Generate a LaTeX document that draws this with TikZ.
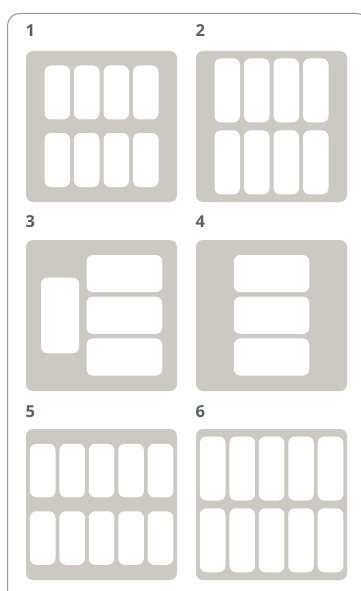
\documentclass[tikz,border=0pt]{standalone}
\usepackage{fontspec}
\setmainfont{Open Sans}
\definecolor{panelgray}{RGB}{204,200,194}
\definecolor{labelc}{RGB}{90,95,102}
\definecolor{framec}{RGB}{150,150,150}
\begin{document}
\begin{tikzpicture}[x=1pt,y=-1pt,
  panel/.style={fill=panelgray,rounded corners=7pt},
  cell/.style={fill=white,rounded corners=6.5pt},
  lbl/.style={anchor=base west,inner sep=0pt,text=labelc,font=\fontsize{16.5}{19}\selectfont\bfseries}]
\useasboundingbox (0,0) rectangle (361,591);
\clip (0,0) rectangle (361,591);
\fill[white] (0,0) rectangle (361,591);
% outer frame
\draw[framec,line width=1pt,rounded corners=12pt] (7.5,13.5) rectangle (369,612);
% labels
\node[lbl] (l1) at (25.5,37) {1};
\node[lbl] (l2) at (195.5,37) {2};
\node[lbl] (l3) at (25.5,227) {3};
\node[lbl] (l4) at (195.5,227) {4};
\node[lbl] (l5) at (25.5,417) {5};
\node[lbl] (l6) at (195.5,417) {6};
% panel 1
\begin{scope}[shift={(26,51)}]
  \fill[panel] (0,0) rectangle (151,151);
  \foreach \i in {0,...,3}{
    \foreach \r in {14.5,82}{
      \fill[cell] ({18.5+\i*29.5},\r) rectangle ++(25.5,54);
    }}
\end{scope}
% panel 2
\begin{scope}[shift={(196,51)}]
  \fill[panel] (0,0) rectangle (151,151);
  \foreach \i in {0,...,3}{
    \foreach \r in {7.4,79.4}{
      \fill[cell] ({18.5+\i*29.5},\r) rectangle ++(25.5,64);
    }}
\end{scope}
% panel 3
\begin{scope}[shift={(26,240)}]
  \fill[panel] (0,0) rectangle (151,151);
  \fill[cell] (15,37.5) rectangle (53,113.3);
  \foreach \r in {15,56.7,98.4}{
    \fill[cell] (60.5,\r) rectangle ++(75.8,37.2);
  }
\end{scope}
% panel 4
\begin{scope}[shift={(196,240)}]
  \fill[panel] (0,0) rectangle (151,151);
  \foreach \r in {15,56.7,98.4}{
    \fill[cell] (37.9,\r) rectangle ++(75.4,37.2);
  }
\end{scope}
% panel 5
\begin{scope}[shift={(26,429)}]
  \fill[panel] (0,0) rectangle (151,151);
  \foreach \i in {0,...,4}{
    \foreach \r in {14.8,82.3}{
      \fill[cell] ({3.9+\i*29.45},\r) rectangle ++(25.6,53.5);
    }}
\end{scope}
% panel 6
\begin{scope}[shift={(196,429)}]
  \fill[panel] (0,0) rectangle (151,151);
  \foreach \i in {0,...,4}{
    \foreach \r in {7.5,79.3}{
      \fill[cell] ({3.9+\i*29.45},\r) rectangle ++(25.6,64);
    }}
\end{scope}
\end{tikzpicture}
\end{document}
